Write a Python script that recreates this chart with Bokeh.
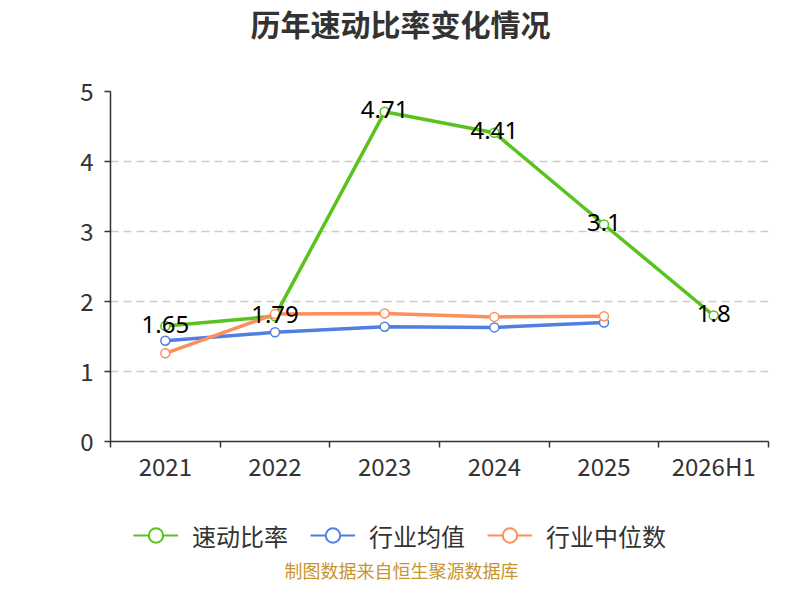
from bokeh.plotting import figure
from bokeh.layouts import column
from bokeh.models import (ColumnDataSource, FixedTicker, Legend, LegendItem,
                          LinearAxis, Range1d, Label)
from bokeh.core.properties import value
from bokeh.embed import file_html
from bokeh.resources import INLINE

categories = ["2021", "2022", "2023", "2024", "2025", "2026H1"]
quick_ratio = [1.65, 1.79, 4.71, 4.41, 3.1, 1.8]
industry_mean = [1.44, 1.56, 1.64, 1.63, 1.70]
industry_median = [1.26, 1.82, 1.83, 1.78, 1.79]
series_names = ["速动比率", "行业均值", "行业中位数"]
colors = ["#5ac21e", "#4f7fe0", "#ff8d5a"]
chart_title = "历年速动比率变化情况"
source_note = "制图数据来自恒生聚源数据库"

CJK = "Noto Sans CJK SC"
NUM = "Noto Sans"

W = 784
HT, H1, H2 = 45, 445, 94
LEFT, RIGHT = 110, 16


def strip(height):
    f = figure(width=W, height=height, output_backend="svg", toolbar_location=None,
               x_range=Range1d(0, 1), y_range=Range1d(0, 1),
               min_border_left=LEFT, min_border_right=RIGHT, min_border_top=0,
               min_border_bottom=0, x_axis_location=None, y_axis_location=None)
    f.outline_line_color = None
    f.grid.visible = False
    f.background_fill_color = "white"
    f.border_fill_color = "white"
    return f


# ---------------- title strip ----------------
t = strip(HT)
t.add_layout(Label(x=140, y=HT - 22, x_units="screen", y_units="screen",
                   text=chart_title, text_font=CJK, text_font_size="30px",
                   text_font_style="bold", text_color="#333333",
                   text_align="left", text_baseline="middle"))

# ---------------- main chart ----------------
p = figure(width=W, height=H1, output_backend="svg", toolbar_location=None,
           x_range=Range1d(0, len(categories)), y_range=Range1d(0, 5),
           min_border_left=LEFT, min_border_right=RIGHT, min_border_top=46,
           min_border_bottom=49, x_axis_location=None, y_axis_location=None)
p.outline_line_color = None
p.background_fill_color = "white"
p.border_fill_color = "white"

xaxis = LinearAxis(ticker=FixedTicker(ticks=[i + 0.5 for i in range(len(categories))],
                                      minor_ticks=list(range(len(categories) + 1))))
xaxis.major_label_overrides = {i + 0.5: c for i, c in enumerate(categories)}
xaxis.major_tick_out = 0
xaxis.major_tick_in = 0
xaxis.minor_tick_out = 6
xaxis.minor_tick_in = 0
xaxis.minor_tick_line_color = "#333333"
xaxis.minor_tick_line_width = 1.5
xaxis.axis_line_color = "#333333"
xaxis.axis_line_width = 1.5
xaxis.major_label_text_font = CJK
xaxis.major_label_text_font_size = "24px"
xaxis.major_label_text_color = "#333333"
xaxis.major_label_standoff = 0
p.add_layout(xaxis, "below")

yaxis = LinearAxis(ticker=FixedTicker(ticks=[0, 1, 2, 3, 4, 5]))
yaxis.major_tick_out = 6
yaxis.major_tick_in = 0
yaxis.minor_tick_line_color = None
yaxis.major_tick_line_color = "#333333"
yaxis.major_tick_line_width = 1.5
yaxis.axis_line_color = "#333333"
yaxis.axis_line_width = 1.5
yaxis.major_label_text_font = CJK
yaxis.major_label_text_font_size = "24px"
yaxis.major_label_text_color = "#333333"
yaxis.major_label_standoff = 11
p.add_layout(yaxis, "left")

p.xgrid.visible = False
p.ygrid.ticker = FixedTicker(ticks=[1, 2, 3, 4, 5])
p.ygrid.grid_line_color = "#cccccc"
p.ygrid.grid_line_dash = "8 5"
p.ygrid.grid_line_width = 1.5

all_series = [quick_ratio, industry_mean, industry_median]
for name, vals, col in zip(series_names, all_series, colors):
    xs = [i + 0.5 for i in range(len(vals))]
    src = ColumnDataSource(dict(x=xs, y=vals))
    p.line("x", "y", source=src, line_color=col, line_width=3.5)
    p.scatter("x", "y", source=src, size=9, fill_color="white",
              line_color=col, line_width=1.5)

lab_src = ColumnDataSource(dict(x=[i + 0.5 for i in range(len(quick_ratio))],
                                y=quick_ratio,
                                t=[f"{v:g}" for v in quick_ratio]))
p.text("x", "y", text="t", source=lab_src, text_align="center",
       text_baseline="middle", text_font=value(NUM), text_font_size="24px",
       text_color="black", y_offset=-2)

# ---------------- legend + source strip ----------------
q = strip(H2)
nan = float("nan")
legend_items = []
for name, col in zip(series_names, colors):
    dummy = ColumnDataSource(dict(x=[nan], y=[nan]))
    lg_l = q.line("x", "y", source=dummy, line_color=col, line_width=2)
    lg_s = q.scatter("x", "y", source=dummy, size=15, fill_color="white",
                     line_color=col, line_width=2)
    legend_items.append(LegendItem(label=name, renderers=[lg_l, lg_s]))

legend = Legend(items=legend_items, orientation="horizontal",
                location=(23, 31), label_text_font=CJK,
                label_text_font_size="24px", label_text_color="#333333",
                glyph_width=45, glyph_height=36, spacing=22, label_standoff=14,
                border_line_color=None, background_fill_alpha=0, padding=0,
                margin=0)
q.add_layout(legend, "center")

q.add_layout(Label(x=174, y=15, x_units="screen", y_units="screen",
                   text=source_note, text_font=CJK,
                   text_font_size="18px", text_color="#c8952c",
                   text_align="left", text_baseline="middle"))

layout = column(t, p, q, spacing=0)
open("out.html", "w").write(file_html(layout, INLINE))
